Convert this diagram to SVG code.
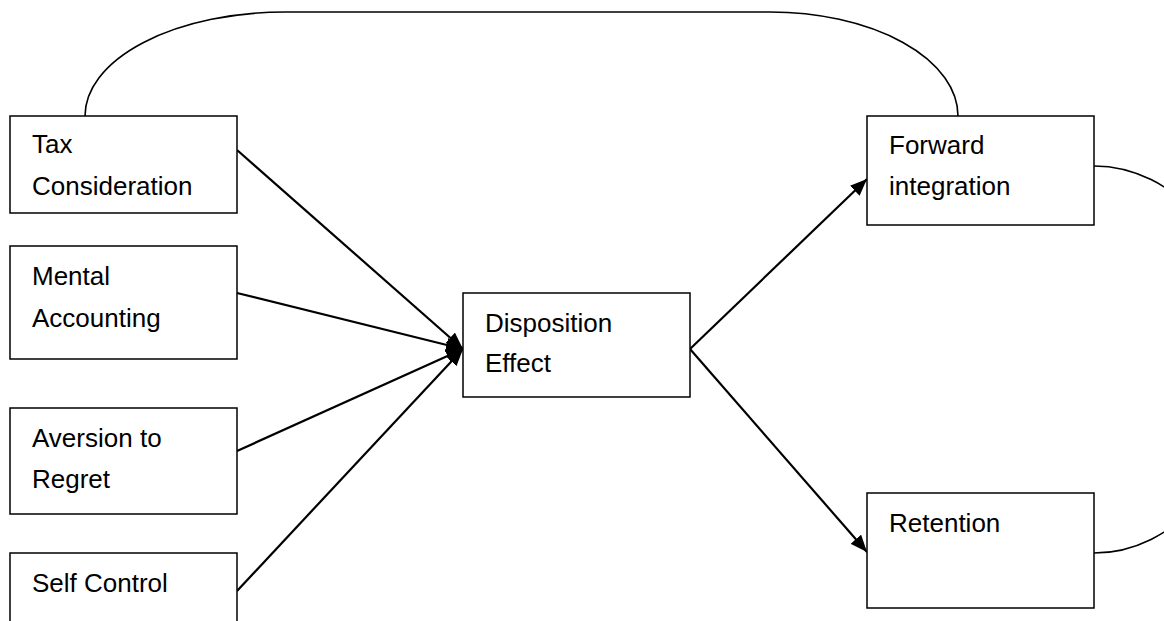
<svg xmlns="http://www.w3.org/2000/svg" width="1164" height="621" viewBox="0 0 1164 621">
<style>
.box{fill:#fff;stroke:#000;stroke-width:1.5}
.t{font-family:"Liberation Sans",Arial,sans-serif;font-size:26px;fill:#000}
.arr{fill:none;stroke:#000;stroke-width:2.2}
.cur{fill:none;stroke:#000;stroke-width:1.6}
</style>
<defs>
<marker id="ah" markerUnits="userSpaceOnUse" markerWidth="18" markerHeight="14" refX="17" refY="7" orient="auto">
<path d="M0,0 L17,7 L0,14 Z" fill="#000"/>
</marker>
</defs>
<rect width="1164" height="621" fill="#fff"/>
<g id="connectors">
<path class="cur" d="M85,116 A200,104 0 0 1 285,12 L770,12 A188,104 0 0 1 958,116"/>
<path class="cur" d="M1094,166 A155,193.5 0 0 1 1094,553"/>
<line class="arr" x1="237" y1="150" x2="463" y2="349" marker-end="url(#ah)"/>
<line class="arr" x1="237" y1="293" x2="463" y2="349" marker-end="url(#ah)"/>
<line class="arr" x1="237" y1="451" x2="463" y2="349" marker-end="url(#ah)"/>
<line class="arr" x1="237" y1="591" x2="463" y2="349" marker-end="url(#ah)"/>
<line class="arr" x1="690" y1="349" x2="867" y2="179" marker-end="url(#ah)"/>
<line class="arr" x1="690" y1="349" x2="867" y2="552" marker-end="url(#ah)"/>
</g>
<g id="tax">
<rect class="box" x="10" y="116" width="227" height="97"/>
<text class="t" x="32" y="153">Tax</text>
<text class="t" x="32" y="195">Consideration</text>
</g>
<g id="mental">
<rect class="box" x="10" y="246" width="227" height="113"/>
<text class="t" x="32" y="285">Mental</text>
<text class="t" x="32" y="327">Accounting</text>
</g>
<g id="aversion">
<rect class="box" x="10" y="408" width="227" height="106"/>
<text class="t" x="32" y="447">Aversion to</text>
<text class="t" x="32" y="488">Regret</text>
</g>
<g id="selfcontrol">
<rect class="box" x="10" y="553" width="227" height="90"/>
<text class="t" x="32" y="592">Self Control</text>
</g>
<g id="disposition">
<rect class="box" x="463" y="293" width="227" height="104"/>
<text class="t" x="485" y="332">Disposition</text>
<text class="t" x="485" y="372">Effect</text>
</g>
<g id="forward">
<rect class="box" x="867" y="116" width="227" height="109"/>
<text class="t" x="889" y="154">Forward</text>
<text class="t" x="889" y="195">integration</text>
</g>
<g id="retention">
<rect class="box" x="867" y="493" width="227" height="115"/>
<text class="t" x="889" y="532">Retention</text>
</g>
</svg>
